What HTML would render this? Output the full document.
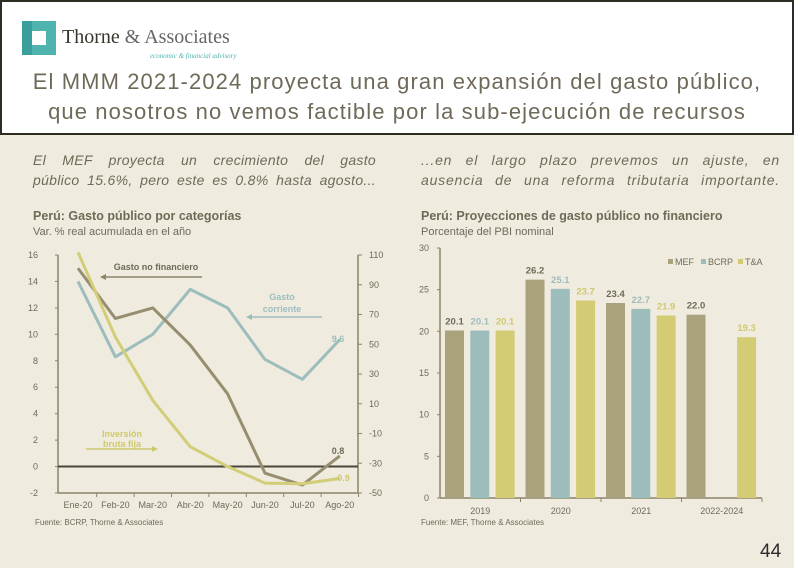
<!DOCTYPE html>
<html><head><meta charset="utf-8"><style>
body{margin:0;width:794px;height:568px;background:#efecdf;font-family:"Liberation Sans",sans-serif;overflow:hidden;position:relative;color:#6f6a58}
.hdr{position:absolute;left:0;top:0;width:790px;height:131px;background:#fff;border:2px solid #2e2d24}
.t{position:absolute;white-space:nowrap}
.j{position:absolute;text-align:justify;text-align-last:justify}
.j div{white-space:nowrap;text-align:justify;text-align-last:justify}
</style></head><body>
<div class="hdr">
 <svg class="t" style="left:20px;top:19px" width="34" height="34"><path d="M0,0H34V34H0Z" fill="#4fb3ae"/><path d="M10,10H24V24H10Z" fill="#fff"/><path d="M0,0H10V34H0Z" fill="#3a9f9a"/></svg>
 <div class="t" style="left:60px;top:24px;font-family:'Liberation Serif',serif;font-size:20px;color:#3a342c">Thorne <span style="color:#666">&amp; Associates</span></div>
 <div class="t" style="left:148px;top:50px;font-family:'Liberation Serif',serif;font-style:italic;font-size:7px;color:#4fb3ae">economic &amp; financial advisory</div>
 <div class="t" style="left:0;width:790px;text-align:center;top:65px;font-size:22px;letter-spacing:1.1px;line-height:30px;color:#6f6a58">El MMM 2021-2024 proyecta una gran expansión del gasto público,<br>que nosotros no vemos factible por la sub-ejecución de recursos</div>
</div>
<div class="j" style="left:33px;top:150px;width:343px;font-size:14px;line-height:20px;font-style:italic;color:#6f6a58;letter-spacing:0.3px"><div>El MEF proyecta un crecimiento del gasto</div><div style="white-space:normal">público 15.6%, pero este es 0.8% hasta agosto...</div></div>
<div class="j" style="left:421px;top:150px;width:359px;font-size:14px;line-height:20px;font-style:italic;color:#6f6a58;letter-spacing:0.8px"><div>...en el largo plazo prevemos un ajuste, en</div><div style="white-space:normal">ausencia de una reforma tributaria importante.</div></div>
<div class="t" style="left:33px;top:209px;font-size:12.5px;font-weight:bold;color:#6f6a58">Perú: Gasto público por categorías</div>
<div class="t" style="left:33px;top:226px;font-size:11px;color:#6f6a58">Var. % real acumulada en el año</div>
<div class="t" style="left:421px;top:209px;font-size:12.5px;font-weight:bold;color:#6f6a58">Perú: Proyecciones de gasto público no financiero</div>
<div class="t" style="left:421px;top:226px;font-size:11px;color:#6f6a58">Porcentaje del PBI nominal</div>
<svg id="lc" class="t" style="left:0;top:240px" width="410" height="300"></svg>
<svg id="bc" class="t" style="left:405px;top:240px" width="389" height="300"></svg>
<div class="t" style="left:35px;top:518px;font-size:8px;color:#6f6a58">Fuente: BCRP, Thorne &amp; Associates</div>
<div class="t" style="left:421px;top:518px;font-size:8px;color:#6f6a58">Fuente: MEF, Thorne &amp; Associates</div>
<div class="t" style="left:760px;top:541px;font-size:19px;color:#2c2c2c">44</div>
<script>
const NS="http://www.w3.org/2000/svg";
function mk(p,tag,a,txt){const e=document.createElementNS(NS,tag);for(const k in a)e.setAttribute(k,a[k]);if(txt!=null)e.textContent=txt;p.appendChild(e);return e;}
// Line chart data
const months=["Ene-20","Feb-20","Mar-20","Abr-20","May-20","Jun-20","Jul-20","Ago-20"];
const gastoNoFin=[15,11.2,12,9.2,5.5,-0.5,-1.4,0.8];
const gastoCorr=[14,8.3,10,13.4,12,8.1,6.6,9.6];
const inversion=[16.2,9.8,5,1.5,0,-1.25,-1.3,-0.9];
const leftTicks=[16,14,12,10,8,6,4,2,0,-2];
const rightTicks=[110,90,70,50,30,10,-10,-30,-50];
// Bar chart data
const years=["2019","2020","2021","2022-2024"];
const mef=[20.1,26.2,23.4,22.0];
const bcrp=[20.1,25.1,22.7,null];
const tya=[20.1,23.7,21.9,19.3];
const barTicks=[0,5,10,15,20,25,30];

const lc=document.getElementById('lc');
const lyy=v=>15+(16-v)*(238/18);
const ry=v=>15+(110-v)*(238/160);
const lx=i=>78+i*37.4;
const ax="#8c8468",tc="#6f6a58";
mk(lc,'line',{x1:58,y1:15,x2:58,y2:253,stroke:ax,'stroke-width':1.5});
mk(lc,'line',{x1:58,y1:253,x2:358,y2:253,stroke:ax,'stroke-width':1.5});
mk(lc,'line',{x1:358,y1:15,x2:358,y2:253,stroke:ax,'stroke-width':1.5});
leftTicks.forEach(t=>{const y=lyy(t);mk(lc,'line',{x1:55,y1:y,x2:58,y2:y,stroke:ax});
 const e=mk(lc,'text',{x:38,y:y+3,'font-size':9,fill:tc,'text-anchor':'end'},t);});
rightTicks.forEach(t=>{const y=ry(t);mk(lc,'line',{x1:358,y1:y,x2:362,y2:y,stroke:ax});
 const e=mk(lc,'text',{x:369,y:y+3,'font-size':9,fill:tc},t);});
months.forEach((m,i)=>{mk(lc,'line',{x1:lx(i)+18.7,y1:253,x2:lx(i)+18.7,y2:257,stroke:ax});
 const e=mk(lc,'text',{x:lx(i),y:268,'font-size':9,fill:tc,'text-anchor':'middle'},m);});
mk(lc,'line',{x1:58,y1:lyy(0),x2:358,y2:lyy(0),stroke:"#4a463a",'stroke-width':2});
function line(arr,col,name){const pts=arr.map((v,i)=>lx(i)+','+lyy(v)).join(' ');const e=mk(lc,'polyline',{points:pts,fill:'none',stroke:col,'stroke-width':3,'stroke-linejoin':'round'});
 }
line(gastoCorr,"#9dbdbd","gasto-corriente-line");
line(gastoNoFin,"#978e70","gasto-no-financiero-line");
line(inversion,"#d3cc78","inversion-line");
const ann=[[156,30,"Gasto no financiero","#6f6a58","middle"],[282,60,"Gasto","#9dbdbd","middle"],[282,72,"corriente","#9dbdbd","middle"],[122,197,"Inversión","#cfc870","middle"],[122,207,"bruta fija","#cfc870","middle"],[338,102,"9.6","#9dbdbd","middle"],[338,214,"0.8","#6f6a58","middle"],[342,241,"-0.9","#cfc870","middle"]];
ann.forEach(a=>{const e=mk(lc,'text',{x:a[0],y:a[1],'font-size':9,'font-weight':'bold',fill:a[3],'text-anchor':a[4]},a[2]);});
mk(lc,'line',{x1:202,y1:37,x2:104,y2:37,stroke:"#8c8468",'stroke-width':1.5});mk(lc,'path',{d:"M100,37l6,-3v6z",fill:"#8c8468"});
mk(lc,'line',{x1:322,y1:77,x2:250,y2:77,stroke:"#9dbdbd",'stroke-width':1.5});mk(lc,'path',{d:"M246,77l6,-3v6z",fill:"#9dbdbd"});
mk(lc,'line',{x1:86,y1:209,x2:154,y2:209,stroke:"#cfc870",'stroke-width':1.5});mk(lc,'path',{d:"M158,209l-6,-3v6z",fill:"#cfc870"});

const bc=document.getElementById('bc');
const by=v=>8+(30-v)*(250/30);
const cw=80.5,x0=35;
mk(bc,'line',{x1:x0,y1:by(0),x2:x0+cw*4,y2:by(0),stroke:ax,'stroke-width':1.5});
mk(bc,'line',{x1:x0,y1:by(30),x2:x0,y2:by(0),stroke:ax,'stroke-width':1.5});
barTicks.forEach(t=>{const y=by(t);mk(bc,'line',{x1:x0-3,y1:y,x2:x0,y2:y,stroke:ax});
 const e=mk(bc,'text',{x:x0-11,y:y+3,'font-size':9,fill:tc,'text-anchor':'end'},t);});
const series=[[mef,"#a9a27c","#6f6a58","mef"],[bcrp,"#9dbdbd","#9dbdbd","bcrp"],[tya,"#d3cc74","#cfc870","tya"]];
years.forEach((yr,i)=>{const cx=x0+cw*i;mk(bc,'line',{x1:cx+cw,y1:by(0),x2:cx+cw,y2:by(0)+4,stroke:ax});
 const e=mk(bc,'text',{x:cx+cw/2,y:by(0)+16,'font-size':9,fill:tc,'text-anchor':'middle'},yr);
 series.forEach((s,j)=>{const v=s[0][i];if(v==null)return;const bx=cx+5+j*25.3;
  const r=mk(bc,'rect',{x:bx,y:by(v),width:19,height:by(0)-by(v),fill:s[1]});
  const l=mk(bc,'text',{x:bx+9.5,y:by(v)-6,'font-size':9.5,'font-weight':'bold',fill:s[2],'text-anchor':'middle'},v.toFixed(1));});});
[["MEF","#a9a27c",263],["BCRP","#9dbdbd",296],["T&A","#d3cc74",333]].forEach(l=>{mk(bc,'rect',{x:l[2],y:19,width:5,height:5,fill:l[1]});
 const e=mk(bc,'text',{x:l[2]+7,y:25,'font-size':9,fill:tc},l[0]);});
</script>
</body></html>
